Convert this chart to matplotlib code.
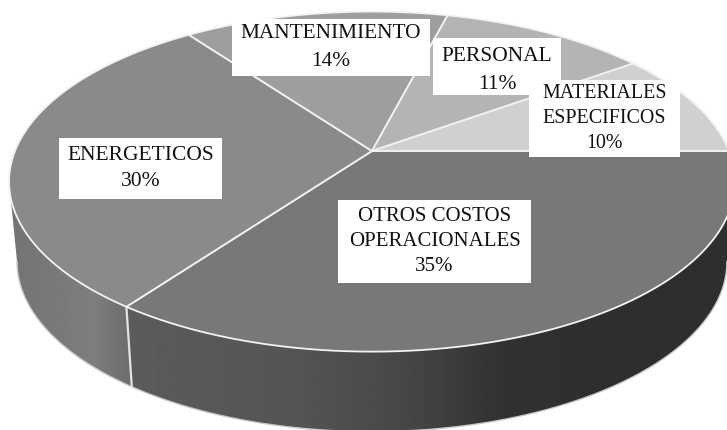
import numpy as np
import matplotlib
matplotlib.use("Agg")
import matplotlib.pyplot as plt
from matplotlib.patches import Polygon, Rectangle

categories = ["OTROS COSTOS\nOPERACIONALES", "ENERGETICOS", "MANTENIMIENTO", "PERSONAL", "MATERIALES\nESPECIFICOS"]
percent = [35, 30, 14, 11, 10]
greys = ["#787878", "#8a8a8a", "#9e9e9e", "#b4b4b4", "#d0d0d0"]
label_boxes = [(338, 200, 531, 283), (59, 138, 222, 199), (232, 19, 430, 76),
               (433, 38, 561, 95), (529, 80, 680, 157)]
label_sizes = [15.0, 15.5, 15.4, 15.5, 14.4]
label_spacing = [1.46, 1.55, 1.6, 1.6, 1.44]
label_shift = [0, 0, 0, 4, 0]

W, H = 727, 430
CX, CY, RX, RY, K = 372.0, 151.0, 357.0, 164.5, 0.18
DEPTH, SHRINK = 80.0, 0.978


def project(angle_deg, lower=False):
    t = np.radians(angle_deg)
    u, v = np.cos(t), np.sin(t)
    w = 1 + K * v
    x = CX + RX * u / w
    y = CY - RY * v / w
    if lower:
        x = CX + SHRINK * (x - CX)
        y = y + DEPTH
    return x, y


fig = plt.figure(figsize=(W / 100, H / 100), dpi=100)
ax = fig.add_axes([0, 0, 1, 1])
ax.axis("off")

fractions = np.array(percent) / np.sum(percent)
edges = -360 * np.concatenate([[0], np.cumsum(fractions)])

# side walls: arcs run from the silhouette tangent to the front divider
ramps = [([125, 300, 400, 500, 600, 740], [92, 84, 72, 50, 46, 46]),
         ([0, 30, 95, 122, 135], [116, 118, 126, 112, 108])]
xs = np.linspace(0, W, W + 1)
rim = []
for i, (xp, gp) in enumerate(ramps):
    ang = np.linspace(edges[i], edges[i + 1], 400)
    tx, _ = project(ang)
    if i == 0:
        ang = ang[np.argmax(tx):]
    else:
        ang = ang[:np.argmin(tx) + 1]
    tx, ty = project(ang)
    bx, by = project(ang, lower=True)
    rim.append((bx, by))
    poly = Polygon(np.r_[np.c_[tx, ty], np.c_[bx, by][::-1]], closed=True,
                   fc="none", ec="none")
    ax.add_patch(poly)
    grad = np.interp(xs, xp, gp)[None, :]
    im = ax.imshow(grad, cmap="gray", vmin=0, vmax=255, extent=[0, W, H, 0],
                   aspect="auto", zorder=1, interpolation="bilinear")
    im.set_clip_path(poly)

# bottom rim and the divider on the side
for bx, by in rim:
    ax.plot(bx, by, color="#c8c8c8", lw=1.0, zorder=2)
tx0, ty0 = project(edges[1])
bx0, by0 = project(edges[1], lower=True)
ax.plot([tx0, bx0], [ty0, by0], color="#e4e4e4", lw=1.6, zorder=2)

# top face
for i, g in enumerate(greys):
    ang = np.linspace(edges[i], edges[i + 1], 200)
    tx, ty = project(ang)
    pts = np.r_[[[CX, CY]], np.c_[tx, ty]]
    ax.add_patch(Polygon(pts, closed=True, fc=g, ec="#f2f2f2", lw=1.3, zorder=3))

# labels
for name, pct, (x0, y0, x1, y1), fs, ls, dy in zip(categories, percent, label_boxes,
                                                   label_sizes, label_spacing, label_shift):
    ax.add_patch(Rectangle((x0, y0), x1 - x0, y1 - y0, fc="white", ec="none", zorder=4))
    ax.text((x0 + x1) / 2, (y0 + y1) / 2 + dy, f"{name}\n{pct}%", ha="center", va="center",
            family="Liberation Serif", fontsize=fs, color="#111111", linespacing=ls, zorder=5)

ax.set_xlim(0, W)
ax.set_ylim(H, 0)
fig.savefig("out.png", dpi=100)
